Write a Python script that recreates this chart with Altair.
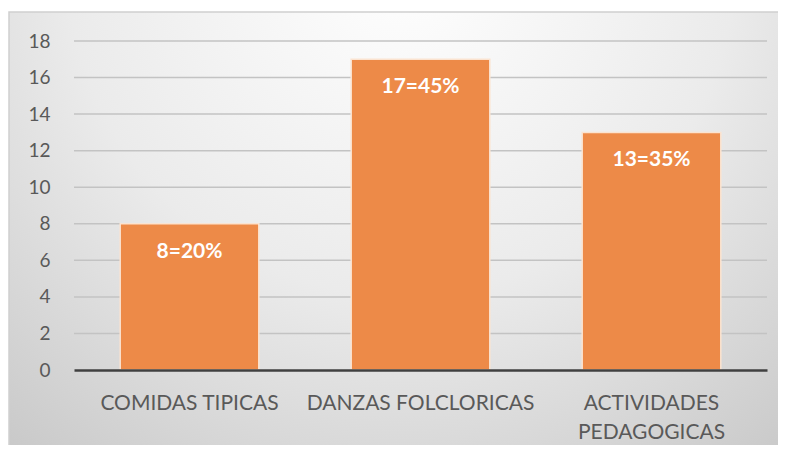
import altair as alt
import pandas as pd

categories = ["COMIDAS TIPICAS", "DANZAS FOLCLORICAS", "ACTIVIDADES PEDAGOGICAS"]
values = [8, 17, 13]
labels = ["8=20%", "17=45%", "13=35%"]
grid_ticks = [2, 4, 6, 8, 10, 12, 14, 16, 18]
y_ticks = [0, 2, 4, 6, 8, 10, 12, 14, 16, 18]

W, H = 693, 329

df = pd.DataFrame({"cat": categories, "val": values, "lab": labels})
gdf = pd.DataFrame({"t": grid_ticks})
bgdf = pd.DataFrame({"a": [0]})

xaxis = alt.Axis(labelAngle=0, labelFontSize=21, labelColor="#595959",
                 labelFont="Lato", labelPadding=22, ticks=False, labelLimit=0,
                 domain=True, domainColor="#404040", domainWidth=2.5,
                 labelLineHeight=29, zindex=1, grid=False,
                 labelExpr="length(datum.label) > 20 ? split(datum.label, ' ') : datum.label")
yaxis = alt.Axis(values=y_ticks, grid=False, domain=False, ticks=False,
                 labelFontSize=19, labelColor="#595959", labelFont="Lato",
                 labelPadding=24, zindex=1)

xscale = alt.Scale(paddingInner=0.4, paddingOuter=0.2)
yscale = alt.Scale(domain=[0, 18], nice=False)

bg = alt.Chart(bgdf).mark_rect(
    fill=alt.Gradient(gradient="radial",
                      stops=[alt.GradientStop(offset=0, color="#ffffff"),
                             alt.GradientStop(offset=0.5, color="#ebebeb"),
                             alt.GradientStop(offset=1, color="#c4c4c4")],
                      x1=0.5, y1=0.15, r1=0, x2=0.5, y2=0.15, r2=0.85),
    stroke="#cfcfcf", strokeWidth=1.5
).encode(x=alt.value(-65), x2=alt.value(720), y=alt.value(-29), y2=alt.value(420))

grid = alt.Chart(gdf).mark_rule(color="#c3c3c3", strokeWidth=1.5).encode(
    x=alt.value(0), x2=alt.value(W),
    y=alt.Y("t:Q", scale=yscale, axis=yaxis, title=None))

bars = alt.Chart(df).mark_bar(color="#ED8A48", stroke="#fbe3d0", strokeWidth=1.5).encode(
    x=alt.X("cat:N", sort=categories, title=None, scale=xscale, axis=xaxis),
    y=alt.Y("val:Q", title=None, scale=yscale, axis=yaxis))

text = alt.Chart(df).mark_text(color="white", fontWeight="bold", fontSize=21,
                               font="Lato", baseline="middle", dy=28).encode(
    x=alt.X("cat:N", sort=categories, title=None, scale=xscale, axis=xaxis),
    y=alt.Y("val:Q", title=None, scale=yscale, axis=yaxis),
    text="lab:N")

chart = alt.layer(bg, grid, bars, text).properties(
    width=W, height=H,
    autosize=alt.AutoSizeParams(type="none"),
    padding={"left": 66, "top": 33, "right": 11, "bottom": 75},
    background="white"
).configure_view(stroke=None)

chart.save("out.html", embed_options={"renderer": "svg", "actions": False})
